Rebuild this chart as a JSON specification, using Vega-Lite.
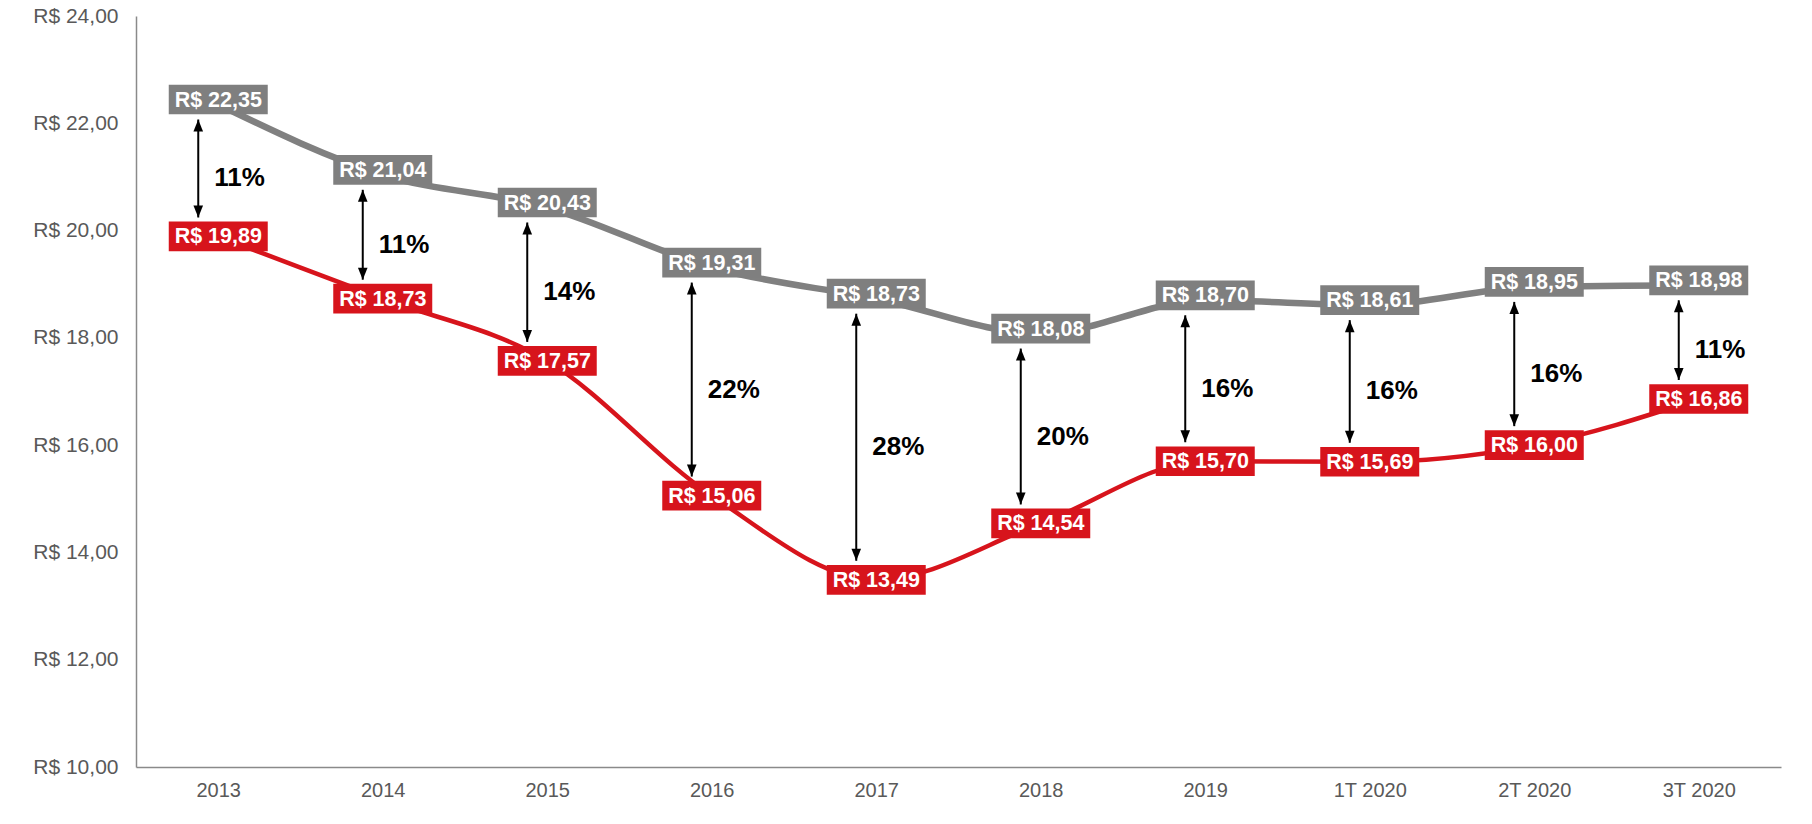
{
  "$schema": "https://vega.github.io/schema/vega-lite/v6.json",
  "width": 1645,
  "height": 751,
  "autosize": {"type": "none"},
  "padding": {"left": 136, "top": 16, "right": 31, "bottom": 57},
  "background": "white",
  "config": {
    "locale": {"number": {"decimal": ",", "thousands": ".", "grouping": [3], "currency": ["R$ ", ""]}},
    "view": {"stroke": null},
    "font": "Liberation Sans"
  },
  "data": {
    "values": [
      {"periodo": "2013", "pedido": 22.35, "efetivo": 19.89, "dif": "11%"},
      {"periodo": "2014", "pedido": 21.04, "efetivo": 18.73, "dif": "11%"},
      {"periodo": "2015", "pedido": 20.43, "efetivo": 17.57, "dif": "14%"},
      {"periodo": "2016", "pedido": 19.31, "efetivo": 15.06, "dif": "22%"},
      {"periodo": "2017", "pedido": 18.73, "efetivo": 13.49, "dif": "28%"},
      {"periodo": "2018", "pedido": 18.08, "efetivo": 14.54, "dif": "20%"},
      {"periodo": "2019", "pedido": 18.70, "efetivo": 15.70, "dif": "16%"},
      {"periodo": "1T 2020", "pedido": 18.61, "efetivo": 15.69, "dif": "16%"},
      {"periodo": "2T 2020", "pedido": 18.95, "efetivo": 16.00, "dif": "16%"},
      {"periodo": "3T 2020", "pedido": 18.98, "efetivo": 16.86, "dif": "11%"}
    ]
  },
  "encoding": {
    "x": {
      "field": "periodo",
      "type": "ordinal",
      "sort": null,
      "scale": {"type": "point", "padding": 0.5, "domain": ["2013", "2014", "2015", "2016", "2017", "2018", "2019", "1T 2020", "2T 2020", "3T 2020"]},
      "axis": {"title": null, "labelAngle": 0, "labelFontSize": 20, "labelColor": "#595959", "ticks": false, "domainColor": "#8a8a8a", "domainWidth": 1.5, "labelPadding": 13, "grid": false}
    }
  },
  "layer": [
    {
      "mark": {"type": "line", "color": "#808080", "strokeWidth": 6.5, "interpolate": "monotone"},
      "encoding": {
        "y": {"field": "pedido", "type": "quantitative", "scale": {"domain": [10, 24], "nice": false, "zero": false},
          "axis": {"title": null, "values": [10, 12, 14, 16, 18, 20, 22, 24], "format": "$.2f", "labelFontSize": 21, "labelColor": "#595959", "labelPadding": 18, "ticks": false, "grid": false, "domainColor": "#8a8a8a", "domainWidth": 1.5}}
      }
    },
    {
      "mark": {"type": "line", "color": "#d7141c", "strokeWidth": 4.5, "interpolate": "monotone"},
      "encoding": {"y": {"field": "efetivo", "type": "quantitative"}}
    },
    {
      "mark": {"type": "rule", "color": "black", "strokeWidth": 2, "xOffset": -20, "yOffset": 15, "y2Offset": -19},
      "encoding": {"y": {"field": "pedido", "type": "quantitative"}, "y2": {"field": "efetivo"}}
    },
    {
      "mark": {"type": "point", "shape": "M0,-1L0.8,1L-0.8,1Z", "size": 144, "filled": true, "opacity": 1, "color": "black", "strokeWidth": 0, "xOffset": -20, "yOffset": 21},
      "encoding": {"y": {"field": "pedido", "type": "quantitative"}}
    },
    {
      "mark": {"type": "point", "shape": "M0,1L0.8,-1L-0.8,-1Z", "size": 144, "filled": true, "opacity": 1, "color": "black", "strokeWidth": 0, "xOffset": -20, "yOffset": -25},
      "encoding": {"y": {"field": "efetivo", "type": "quantitative"}}
    },
    {
      "mark": {"type": "point", "shape": "M-1,-0.3L1,-0.3L1,0.3L-1,0.3Z", "size": 9801, "filled": true, "opacity": 1, "color": "#7f7f7f", "strokeWidth": 0, "yOffset": -5},
      "encoding": {"y": {"field": "pedido", "type": "quantitative"}}
    },
    {
      "mark": {"type": "point", "shape": "M-1,-0.3L1,-0.3L1,0.3L-1,0.3Z", "size": 9801, "filled": true, "opacity": 1, "color": "#d7141c", "strokeWidth": 0},
      "encoding": {"y": {"field": "efetivo", "type": "quantitative"}}
    },
    {
      "mark": {"type": "text", "color": "white", "fontWeight": "bold", "fontSize": 21.5, "baseline": "middle", "align": "center", "dy": -4},
      "encoding": {"y": {"field": "pedido", "type": "quantitative"}, "text": {"field": "pedido", "type": "quantitative", "format": "$.2f"}}
    },
    {
      "mark": {"type": "text", "color": "white", "fontWeight": "bold", "fontSize": 21.5, "baseline": "middle", "align": "center", "dy": 1},
      "encoding": {"y": {"field": "efetivo", "type": "quantitative"}, "text": {"field": "efetivo", "type": "quantitative", "format": "$.2f"}}
    },
    {
      "transform": [{"fold": ["pedido", "efetivo"], "as": ["serie", "valor"]}],
      "mark": {"type": "text", "color": "black", "fontWeight": "bold", "fontSize": 26, "baseline": "middle", "align": "left", "dx": -4, "dy": 8},
      "encoding": {"y": {"field": "valor", "type": "quantitative", "aggregate": "mean"}, "text": {"field": "dif", "type": "nominal"}}
    }
  ]
}
